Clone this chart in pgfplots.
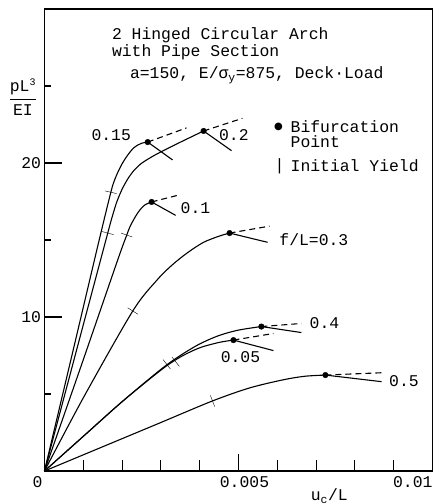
\documentclass[border=0pt]{standalone}
\usepackage{pgfplots}
\pgfplotsset{compat=1.18}
\usepackage{fontspec}
\setmainfont{Liberation Mono}
\newfontfamily\symfont{DejaVu Sans}

\begin{document}
\begin{tikzpicture}
\useasboundingbox (-44.5pt,-33pt) rectangle (394.5pt,471pt);
\begin{axis}[
  at={(0,0)}, anchor=south west,
  scale only axis, width=388pt, height=462pt,
  xmin=0, xmax=0.01, ymin=0, ymax=30,
  clip=false,
  scaled x ticks=false,
  font=\fontsize{16.4}{19}\selectfont,
  axis line style={line width=1.1pt},
  tick align=inside, xtick pos=bottom, ytick pos=left,
  tick style={line width=1.1pt, black},
  major tick length=17pt, minor tick length=7pt,
  xtick={0,0.005,0.01},
  xticklabels={{\makebox[0pt][r]{0\hspace{2pt}}},{\makebox[0pt]{\hspace*{12pt}0.005}},{\makebox[0pt][r]{0.01}}},
  extra x ticks={0.001,0.002,0.003,0.004,0.006,0.007,0.008,0.009},
  extra x tick labels={},
  extra x tick style={major tick length=11pt},
  ytick={10,20}, yticklabels={10,20},
  minor ytick={5,15,25},
  every tick label/.append style={font=\fontsize{16.4}{19}\selectfont},
  xticklabel style={yshift=-2pt},
  curve/.style={black, line width=1.1pt, smooth, tension=0.5, no marks},
  post/.style={black, line width=1.1pt, no marks},
  postd/.style={black, line width=1.1pt, no marks, dash pattern=on 6pt off 4pt},
  bif/.style={only marks, mark=*, mark size=2.8pt, black},
  yield/.style={only marks, mark=-, mark size=6pt, black, mark options={line width=1.1pt}},
]

% load-deflection paths for each rise ratio f/L
\addplot[curve] coordinates {(0,0) (0.0008,8.5) (0.0014,14.9) (0.00171,18.1) (0.0018,18.85) (0.0019,19.45) (0.002,19.95) (0.0021,20.35) (0.0022,20.7) (0.0023,20.98) (0.0024,21.16) (0.0025,21.28) (0.00266,21.36)}; % 0.15
\addplot[curve] coordinates {(0,0) (0.0008,7.6) (0.00163,15.45) (0.00175,16.55) (0.00186,17.45) (0.002,18.3) (0.00215,18.98) (0.0023,19.5) (0.0025,19.98) (0.0028,20.45) (0.0031,20.85) (0.0035,21.35) (0.0041,22.08)}; % 0.2
\addplot[curve] coordinates {(0,0) (0.001,7.23) (0.0019,13.8) (0.00212,15.32) (0.0022,15.85) (0.0023,16.33) (0.0024,16.75) (0.0025,17.07) (0.0026,17.3) (0.00276,17.47)}; % 0.1
\addplot[curve] coordinates {(0,0) (0.001,4.75) (0.002275,10.39) (0.0029,12.4) (0.0033,13.4) (0.0037,14.2) (0.0041,14.85) (0.0045,15.25) (0.00477,15.45)}; % 0.3
\addplot[curve] coordinates {(0,0) (0.001,2.25) (0.002,4.5) (0.003,6.6) (0.0035,7.5) (0.004,8.25) (0.0045,8.8) (0.005,9.15) (0.00559,9.38)}; % 0.4
\addplot[curve] coordinates {(0,0) (0.001,2.25) (0.002,4.5) (0.003,6.55) (0.0035,7.4) (0.004,8.0) (0.0045,8.35) (0.00487,8.5)}; % 0.05
\addplot[curve] coordinates {(0,0) (0.001,1.05) (0.002,2.1) (0.003,3.15) (0.00433,4.55) (0.00528,5.39) (0.00613,5.91) (0.0067,6.15) (0.00724,6.23)}; % 0.5

% symmetric (dashed) and asymmetric (solid) branches after bifurcation
\addplot[postd] coordinates {(0.00266,21.36) (0.00366,22.28)};
\addplot[post]  coordinates {(0.00266,21.36) (0.0033,20.2)};
\addplot[postd] coordinates {(0.0041,22.08) (0.0051,22.9)};
\addplot[post]  coordinates {(0.0041,22.08) (0.00482,20.8)};
\addplot[postd] coordinates {(0.00276,17.47) (0.00343,17.9)};
\addplot[post]  coordinates {(0.00276,17.47) (0.00338,16.6)};
\addplot[postd] coordinates {(0.00477,15.45) (0.0058,15.9)};
\addplot[post]  coordinates {(0.00477,15.45) (0.00575,14.85)};
\addplot[postd] coordinates {(0.00559,9.38) (0.00662,9.58)};
\addplot[post]  coordinates {(0.00559,9.38) (0.00662,8.99)};
\addplot[postd] coordinates {(0.00487,8.5) (0.0059,8.93)};
\addplot[post]  coordinates {(0.00487,8.5) (0.0059,7.82)};
\addplot[postd] coordinates {(0.00724,6.23) (0.00869,6.38)};
\addplot[post]  coordinates {(0.00724,6.23) (0.00869,5.8)};

% bifurcation points
\addplot[bif] coordinates {(0.00266,21.36) (0.0041,22.08) (0.00276,17.47) (0.00477,15.45) (0.00559,9.38) (0.00487,8.5) (0.00724,6.23)};

% initial yield
\addplot[yield, mark options={rotate=-13}] coordinates {(0.00171,18.1)};
\addplot[yield, mark options={rotate=-15}] coordinates {(0.00163,15.45)};
\addplot[yield, mark options={rotate=-19}] coordinates {(0.00212,15.32)};
\addplot[yield, mark options={rotate=-32}] coordinates {(0.002275,10.39)};
\addplot[yield, mark options={rotate=-52}] coordinates {(0.00315,6.93)};
\addplot[yield, mark options={rotate=-52}] coordinates {(0.00338,7.1)};
\addplot[yield, mark options={rotate=-69}] coordinates {(0.00433,4.55)};

% curve labels
\node[inner sep=0] at (axis cs:0.00172,21.82) {0.15};
\node[inner sep=0] at (axis cs:0.00488,21.82) {0.2};
\node[inner sep=0] at (axis cs:0.00389,17.08) {0.1};
\node[inner sep=0, anchor=west] at (axis cs:0.00605,15.0) {f/L=0.3};
\node[inner sep=0, anchor=west] at (axis cs:0.00683,9.61) {0.4};
\node[inner sep=0] at (axis cs:0.00505,7.4) {0.05};
\node[inner sep=0, anchor=west] at (axis cs:0.00888,5.84) {0.5};

% title
\node[inner sep=0, anchor=west] at (axis cs:0.001735,28.31) {2 Hinged Circular Arch};
\node[inner sep=0, anchor=west] at (axis cs:0.001735,27.21) {with Pipe Section};
\node[inner sep=0, anchor=west] at (axis cs:0.0022,25.71) {a=150, E/σ\textsubscript{y}=875, Deck·Load};

% key
\node[inner sep=0] at (axis cs:0.00603,22.34) {\symfont\fontsize{10}{10}\selectfont ●};
\node[inner sep=0, anchor=west] at (axis cs:0.00634,22.34) {Bifurcation};
\node[inner sep=0, anchor=west] at (axis cs:0.00634,21.36) {Point};
\node[inner sep=0] at (axis cs:0.00606,19.8) {|};
\node[inner sep=0, anchor=west] at (axis cs:0.00634,19.8) {Initial Yield};

% axis labels
\node[inner sep=0] at (axis cs:0,24.3) [xshift=-21.5pt] {$\displaystyle\frac{\mbox{pL}^{\mbox{\fontsize{10}{10}\selectfont 3}}}{\mbox{EI}}$};
\node[inner sep=0] at (axis cs:0.00734,0) [yshift=-25pt] {u\textsubscript{c}/L};
\end{axis}
\end{tikzpicture}
\end{document}
